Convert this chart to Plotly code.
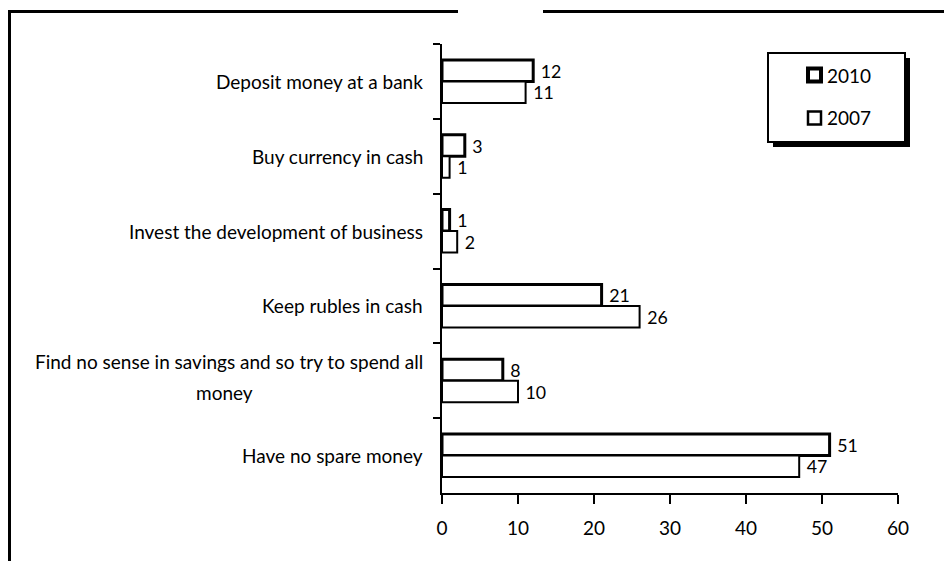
import plotly.graph_objects as go

# ---- data ----
categories = [
    "Deposit money at a bank",
    "Buy currency in cash",
    "Invest the development of business",
    "Keep rubles in cash",
    "Find no sense in savings and so try to spend all<br>money",
    "Have no spare money",
]
series_names = ["2010", "2007"]
values_2010 = [12, 3, 1, 21, 8, 51]
values_2007 = [11, 1, 2, 26, 10, 47]
x_ticks = [0, 10, 20, 30, 40, 50, 60]

FONT = "Lato, 'Open Sans', 'DejaVu Sans', sans-serif"
FS = 19

# plot-area pixel geometry
L, R, T, B = 442, 898, 44, 493
W, H = 944, 561


def px(p):
    return (p - L) / (R - L)


def py(p):
    return (B - p) / (B - T)


fig = go.Figure()
line_widths = [3, 2]
for name, vals, lw in zip(series_names, [values_2010, values_2007], line_widths):
    fig.add_trace(go.Bar(
        name=name,
        y=categories,
        x=vals,
        orientation="h",
        marker=dict(color="white", line=dict(color="black", width=lw)),
        text=vals,
        texttemplate="\u00a0%{x}",
        textposition="outside",
        textfont=dict(family=FONT, size=FS, color="black"),
        cliponaxis=False,
        showlegend=False,
        hoverinfo="skip",
    ))

shapes = []
annotations = []

# category labels (drawn as annotations so wrapped lines are spaced like the original)
for cat in categories:
    lines = cat.split("<br>")
    n = len(lines)
    spacing = 31
    for i, ln in enumerate(lines):
        yshift = ((n - 1) / 2 - i) * spacing + (4 if n > 1 else 0)
        if i == 0:
            annotations.append(dict(
                xref="paper", yref="y", x=0, y=cat, xshift=-17, yshift=yshift,
                xanchor="right", yanchor="middle", text=ln, showarrow=False,
                font=dict(family=FONT, size=FS, color="black")))
        else:
            annotations.append(dict(
                xref="paper", yref="y", x=0, y=cat, xshift=-(L - 224), yshift=yshift,
                xanchor="center", yanchor="middle", text=ln, showarrow=False,
                font=dict(family=FONT, size=FS, color="black")))

# manual legend with drop shadow
shapes.append(dict(type="rect", xref="paper", yref="paper",
                   x0=px(773), x1=px(910), y0=py(147), y1=py(58),
                   fillcolor="black", line=dict(width=0), layer="above"))
shapes.append(dict(type="rect", xref="paper", yref="paper",
                   x0=px(768), x1=px(905), y0=py(142), y1=py(53),
                   fillcolor="white", line=dict(color="black", width=2), layer="above"))
leg_rows = [75, 118]
sym_lw = [4, 2.5]
for name, cy, lw in zip(series_names, leg_rows, sym_lw):
    shapes.append(dict(type="rect", xref="paper", yref="paper",
                       x0=px(808), x1=px(821), y0=py(cy + 6.5), y1=py(cy - 6.5),
                       fillcolor="white", line=dict(color="black", width=lw), layer="above"))
    annotations.append(dict(xref="paper", yref="paper", x=px(825), y=py(cy),
                            xanchor="left", yanchor="middle", text=name, showarrow=False,
                            font=dict(family=FONT, size=FS, color="black")))

# outer frame (left edge and top edge with a gap)
shapes.append(dict(type="line", xref="paper", yref="paper",
                   x0=px(9.5), x1=px(9.5), y0=py(11), y1=py(565),
                   line=dict(color="black", width=3)))
shapes.append(dict(type="line", xref="paper", yref="paper",
                   x0=px(8), x1=px(458), y0=py(11.5), y1=py(11.5),
                   line=dict(color="black", width=3)))
shapes.append(dict(type="line", xref="paper", yref="paper",
                   x0=px(543), x1=px(950), y0=py(11.5), y1=py(11.5),
                   line=dict(color="black", width=3)))

fig.update_layout(
    width=W, height=H,
    margin=dict(l=L, r=W - R, t=T, b=H - B, pad=0),
    paper_bgcolor="white", plot_bgcolor="white",
    font=dict(family=FONT, size=FS, color="black"),
    barmode="group", bargap=0.425, bargroupgap=0,
    showlegend=False,
    hovermode=False,
    shapes=shapes,
    annotations=annotations,
    xaxis=dict(range=[0, 60], tickvals=x_ticks, ticktext=[str(v) for v in x_ticks],
               showgrid=False, zeroline=False, showline=True, linecolor="black", linewidth=2,
               ticks="outside", ticklen=9, tickwidth=2, tickcolor="black",
               ticklabelstandoff=8,
               tickfont=dict(family=FONT, size=FS, color="black")),
    yaxis=dict(categoryorder="array", categoryarray=categories, autorange="reversed",
               showgrid=False, zeroline=False, showline=True, linecolor="black", linewidth=2,
               ticks="outside", tickson="boundaries", ticklen=7, tickwidth=2, tickcolor="black",
               showticklabels=False),
)

fig.write_html("out.html",
               config={"displayModeBar": False, "staticPlot": True},
               post_script="document.body.style.margin='0';document.body.style.overflow='hidden';")
